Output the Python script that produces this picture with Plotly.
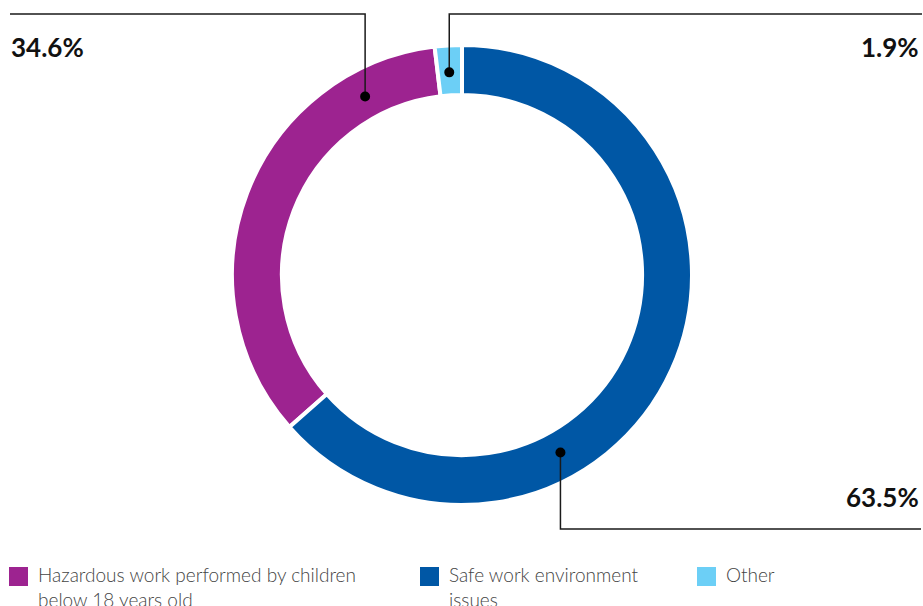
import math
import plotly.graph_objects as go

# data
labels = ["Hazardous work performed by children below 18 years old",
          "Safe work environment issues",
          "Other"]
values = [34.6, 63.5, 1.9]
legend_names = ["Hazardous work performed by children<br>below 18 years old",
                "Safe work environment<br>issues",
                "Other"]
colors = ["#9D2390", "#0057A5", "#6CCFF6"]

W, H = 923, 606
cx, cy, R = 462, 275, 230
hole = 0.783
rmid = R * (1 + hole) / 2 - 2


def px(x):
    return x / W


def py(y):
    return 1 - y / H


total = sum(values)
# safe work slice starts at 12 o'clock going clockwise, others follow counterclockwise
rotation = 360 * values[1] / total

fig = go.Figure()
fig.add_trace(go.Pie(
    labels=labels,
    values=values,
    hole=hole,
    sort=False,
    direction='counterclockwise',
    rotation=rotation,
    marker=dict(colors=colors, line=dict(color='white', width=4)),
    textinfo='none',
    hoverinfo='label+percent',
    showlegend=False,
    domain=dict(x=[px(cx - R), px(cx + R)], y=[py(cy + R), py(cy - R)]),
))

# leader lines: angle of dot (deg clockwise from top), elbow y, end x, label
leaders = [
    dict(angle=-28.5, ey=14, ex=10, lx=9, ly=47, anchor='left'),
    dict(angle=151, ey=529, ex=921, lx=921, ly=497, anchor='right'),
    dict(angle=-3.6, ey=14, ex=922, lx=921, ly=47, anchor='right'),
]

shapes = []
annotations = []
for i, ld in enumerate(leaders):
    a = math.radians(ld['angle'])
    dx = cx + rmid * math.sin(a)
    dy = cy - rmid * math.cos(a)
    shapes.append(dict(type='path', xref='paper', yref='paper',
                       path='M {} {} L {} {} L {} {}'.format(px(dx), py(dy), px(dx), py(ld['ey']),
                                                           px(ld['ex']), py(ld['ey'])),
                       line=dict(color='#1a1a1a', width=1.5)))
    shapes.append(dict(type='circle', xref='paper', yref='paper',
                       x0=px(dx - 5), x1=px(dx + 5), y0=py(dy + 5), y1=py(dy - 5),
                       fillcolor='black', line=dict(width=0)))
    annotations.append(dict(text='{}%'.format(values[i]), xref='paper', yref='paper',
                            x=px(ld['lx']), y=py(ld['ly']), xanchor=ld['anchor'], yanchor='middle',
                            showarrow=False,
                            font=dict(family='Lato', size=26, color='#111111', weight='bold')))

# legend drawn by hand to get the larger swatches
legend_x = [9, 420, 697]
for i, name in enumerate(legend_names):
    x0 = legend_x[i]
    shapes.append(dict(type='rect', xref='paper', yref='paper',
                       x0=px(x0), x1=px(x0 + 19), y0=py(586), y1=py(567),
                       fillcolor=colors[i], line=dict(width=0)))
    annotations.append(dict(text=name, xref='paper', yref='paper',
                            x=px(x0 + 27), y=py(561), xanchor='left', yanchor='top',
                            align='left', showarrow=False,
                            font=dict(family='Lato', size=19, color='#444444', weight=300)))

fig.update_layout(width=W, height=H,
                  margin=dict(l=0, r=0, t=0, b=0),
                  paper_bgcolor='white',
                  plot_bgcolor='white',
                  shapes=shapes,
                  annotations=annotations,
                  showlegend=False)

# page body has a default 8px margin; drop it so the figure fills the window
fig.write_html("out.html", config={'displayModeBar': False},
               post_script="document.body.style.margin='0';")
